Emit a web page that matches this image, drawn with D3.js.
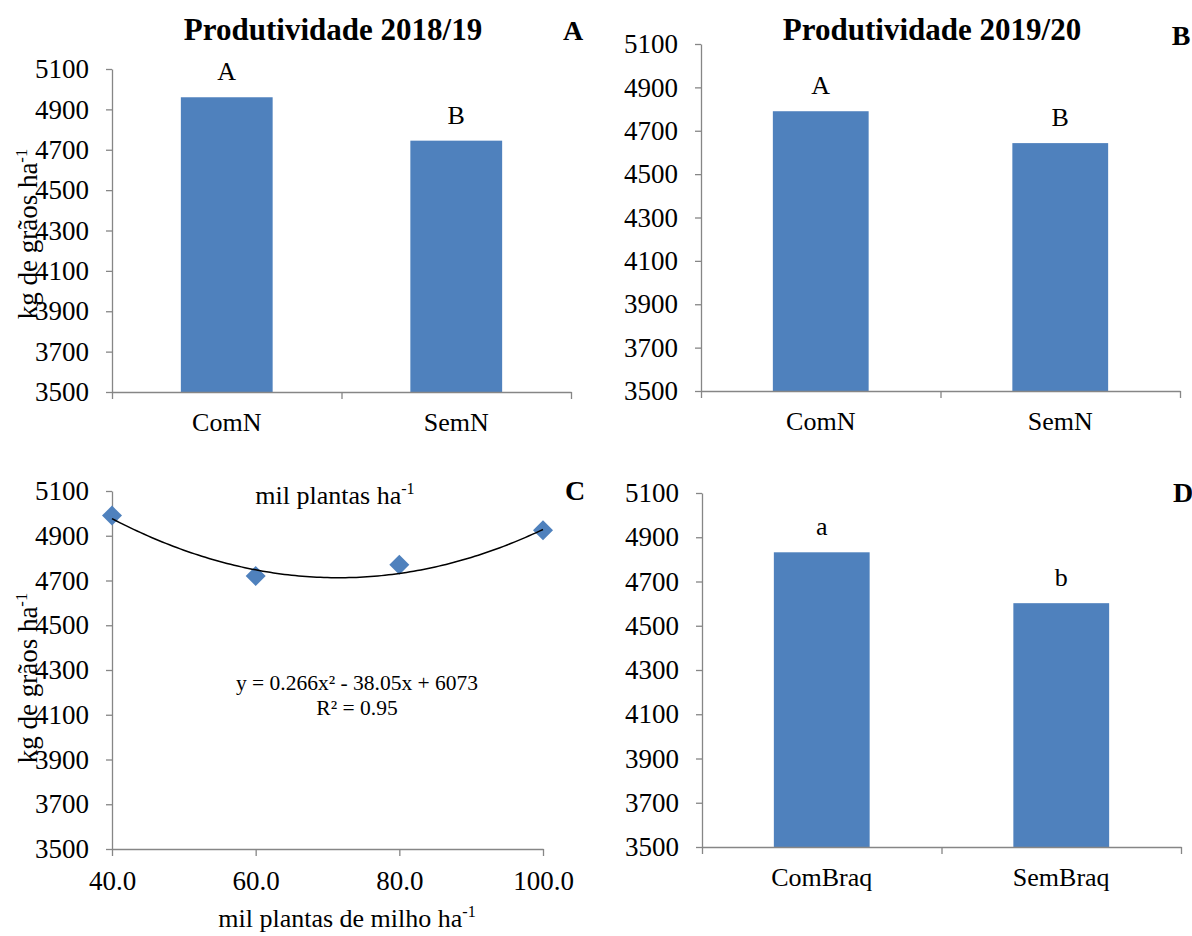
<!DOCTYPE html>
<html>
<head>
<meta charset="utf-8">
<script src="https://cdn.jsdelivr.net/npm/d3@7"></script>
<style>
  body { margin: 0; background: #fff; }
</style>
</head>
<body>
<div id="chart"></div>
<script>
// ----- data -----------------------------------------------------------------
const yTicks      = [3500, 3700, 3900, 4100, 4300, 4500, 4700, 4900, 5100];

const tratN       = ['ComN', 'SemN'];
const prod1819    = [4960, 4745];
const letras1819  = ['A', 'B'];
const prod1920    = [4790, 4643];
const letras1920  = ['A', 'B'];

const plantas     = [40, 60, 80, 100];
const prodPlantas = [4990, 4720, 4770, 4925];
const coefQuad    = [0.266, -38.05, 6073];        // y = a x² + b x + c

const tratBraq    = ['ComBraq', 'SemBraq'];
const prodBraq    = [4832, 4602];
const letrasBraq  = ['a', 'b'];

// ----- setup ----------------------------------------------------------------
const width = 1192, height = 936;
const FONT = 'Liberation Serif, Times New Roman, serif';
const AXIS = '#868686';
const BAR  = '#4F81BD';

const svg = d3.select('#chart').append('svg')
  .attr('width', width)
  .attr('height', height)
  .attr('viewBox', [0, 0, width, height])
  .style('font-family', FONT);

svg.append('rect').attr('width', width).attr('height', height).attr('fill', '#fff');

const boxA = { x0: 112, x1: 571,  y0: 69,  y1: 392 };
const boxB = { x0: 701, x1: 1180, y0: 44,  y1: 391 };
const boxC = { x0: 112, x1: 543,  y0: 491, y1: 849 };
const boxD = { x0: 702, x1: 1181, y0: 493, y1: 847 };

function styleAxis(g) {
  g.attr('color', AXIS)
    .attr('font-family', FONT)
    .attr('font-size', 27);
  g.selectAll('.domain, .tick line').attr('stroke', AXIS).attr('stroke-width', 1.3);
  g.selectAll('text')
    .attr('fill', '#000')
    .style('font-family', FONT)
    .style('font-size', '27px');
}

function label(g, x, y, txt, size, opts = {}) {
  return g.append('text')
    .attr('x', x).attr('y', y)
    .attr('text-anchor', opts.anchor || 'middle')
    .style('font-family', FONT)
    .style('font-size', size + 'px')
    .attr('font-weight', opts.bold ? 'bold' : 'normal')
    .attr('fill', '#000')
    .text(txt);
}

function withSup(t, main, sup) {
  t.text(null);
  t.append('tspan').text(main);
  t.append('tspan').style('font-size', '0.62em').attr('dy', '-0.6em').text(sup);
  return t;
}

function yTitle(g, cx, cy) {
  const t = g.append('text')
    .attr('transform', `translate(${cx},${cy}) rotate(-90)`)
    .attr('text-anchor', 'middle')
    .style('font-family', FONT)
    .style('font-size', '27px')
    .attr('fill', '#000');
  withSup(t, 'kg de grãos ha', '-1');
}

function yAxis(panel, box) {
  const y = d3.scaleLinear().domain([3500, 5100]).range([box.y1, box.y0]);
  panel.append('g')
    .attr('transform', `translate(${box.x0},0)`)
    .call(d3.axisLeft(y).tickValues(yTicks).tickFormat(d3.format('d')).tickSize(6).tickSizeOuter(0).tickPadding(17))
    .call(styleAxis);
  return y;
}

// ----- bar panels -----------------------------------------------------------
function barPanel(id, box, cats, values, letters) {
  const panel = svg.append('g').attr('id', id);

  const x = d3.scaleBand().domain(cats).range([box.x0, box.x1]).paddingInner(0.6).paddingOuter(0.3);
  const y = d3.scaleLinear().domain([3500, 5100]).range([box.y1, box.y0]);

  panel.append('g').selectAll('rect')
    .data(values)
    .join('rect')
    .attr('x', (d, i) => x(cats[i]))
    .attr('width', x.bandwidth())
    .attr('y', d => y(d))
    .attr('height', d => y(3500) - y(d))
    .attr('fill', BAR);

  yAxis(panel, box);

  // category boundaries on the x axis
  const xb = d3.scaleLinear().domain([0, cats.length]).range([box.x0, box.x1]);
  panel.append('g')
    .attr('transform', `translate(0,${box.y1})`)
    .call(d3.axisBottom(xb).tickValues(d3.range(cats.length + 1)).tickFormat('').tickSize(7).tickSizeOuter(0))
    .call(styleAxis);

  cats.forEach((c, i) => {
    const cx = x(c) + x.bandwidth() / 2;
    label(panel, cx, box.y1 + 39, c, 26);
    label(panel, cx, y(values[i]) - 17, letters[i], 26);
  });

  return panel;
}

const pA = barPanel('painel-a', boxA, tratN, prod1819, letras1819);
label(pA, 333, 40, 'Produtividade 2018/19', 31, { bold: true });
label(pA, 573, 40, 'A', 28, { bold: true });
yTitle(pA, 37, 234);

const pB = barPanel('painel-b', boxB, tratN, prod1920, letras1920);
label(pB, 932, 40, 'Produtividade 2019/20', 31, { bold: true });
label(pB, 1181, 45, 'B', 28, { bold: true });

const pD = barPanel('painel-d', boxD, tratBraq, prodBraq, letrasBraq);
label(pD, 1183, 502, 'D', 28, { bold: true });

// ----- scatter panel C ------------------------------------------------------
const pC = svg.append('g').attr('id', 'painel-c');
const xC = d3.scaleLinear().domain([40, 100]).range([boxC.x0, boxC.x1]);
const yC = yAxis(pC, boxC);

pC.append('g')
  .attr('transform', `translate(0,${boxC.y1})`)
  .call(d3.axisBottom(xC).tickValues(plantas).tickFormat(d3.format('.1f')).tickSize(7).tickSizeOuter(0).tickPadding(15))
  .call(styleAxis);

pC.append('g').selectAll('path')
  .data(plantas)
  .join('path')
  .attr('d', d3.symbol(d3.symbolSquare, 200))
  .attr('transform', (d, i) => `translate(${xC(d)},${yC(prodPlantas[i])}) rotate(45)`)
  .attr('fill', BAR);

const trend = d3.range(40, 100.01, 0.5).map(v => [v, coefQuad[0] * v * v + coefQuad[1] * v + coefQuad[2]]);
pC.append('path')
  .datum(trend)
  .attr('d', d3.line().x(d => xC(d[0])).y(d => yC(d[1])))
  .attr('fill', 'none')
  .attr('stroke', '#000')
  .attr('stroke-width', 1.5);

withSup(label(pC, 335, 504, '', 26), 'mil plantas ha', '-1');
label(pC, 357, 690, 'y = 0.266x² - 38.05x + 6073', 21.5);
label(pC, 357, 715, 'R² = 0.95', 21.5);
withSup(label(pC, 347, 927, '', 26), 'mil plantas de milho ha', '-1');
label(pC, 575, 500, 'C', 28, { bold: true });
yTitle(pC, 37, 678);
</script>
</body>
</html>
